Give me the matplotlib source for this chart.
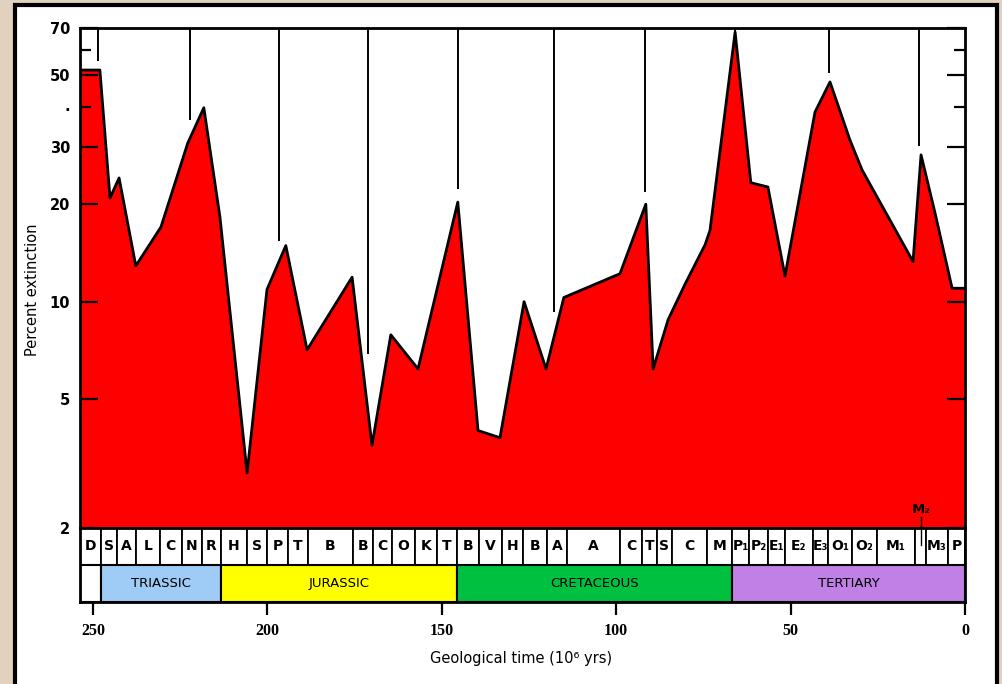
import numpy as np
import matplotlib
matplotlib.use("Agg")
import matplotlib.pyplot as plt
from matplotlib.patches import Rectangle
from matplotlib.ticker import FixedLocator, NullFormatter

# extinction curve (time in Myr before present, percent extinction)
times = [253.7, 248.0, 245.1, 242.5, 237.7, 230.5, 222.8, 218.2, 213.6, 205.8,
         200.1, 194.7, 188.6, 175.7, 170.0, 164.6, 156.8, 145.4, 139.6, 133.3,
         126.4, 120.1, 115.0, 98.9, 91.5, 89.4, 85.1, 80.3, 74.5, 73.1,
         65.9, 61.4, 56.5, 51.6, 43.0, 38.7, 33.0, 29.5, 14.9, 12.6,
         8.6, 3.7, 0.0]
pct = [51.9, 51.9, 20.9, 24.1, 12.9, 17.0, 30.9, 39.7, 18.3, 2.96,
       10.9, 14.9, 7.1, 11.9, 3.6, 7.9, 6.2, 20.3, 4.0, 3.8,
       10.0, 6.2, 10.3, 12.2, 20.0, 6.2, 8.8, 11.3, 15.0, 16.6,
       68.0, 23.3, 22.6, 12.0, 38.5, 47.7, 31.6, 25.5, 13.3, 28.4,
       18.8, 11.0, 11.0]

# 26 Myr periodicity markers hanging from the top
cycle_times = [248.6, 222.2, 196.7, 171.2, 145.4, 117.8, 91.7, 65.9, 39.0, 13.2]
cycle_ends = [55.4, 36.4, 15.4, 6.9, 22.3, 9.3, 21.8, 67.0, 51.0, 30.3]

# stages
stage_edges = [253.7, 247.7, 243.1, 237.7, 230.8, 224.5, 218.7, 213.3, 205.8, 200.1,
               194.1, 188.4, 175.5, 169.7, 164.3, 157.7, 151.4, 145.6, 139.3, 132.7,
               126.7, 119.8, 114.1, 98.9, 92.6, 88.3, 84.0, 74.0, 66.8, 61.9,
               56.5, 51.6, 43.6, 39.3, 32.4, 25.2, 14.3, 11.2, 4.9, 0.0]
stage_labels = ["D", "S", "A", "L", "C", "N", "R", "H", "S", "P",
                "T", "B", "B", "C", "O", "K", "T", "B", "V", "H",
                "B", "A", "A", "C", "T", "S", "C", "M", "P₁", "P₂",
                "E₁", "E₂", "E₃", "O₁", "O₂", "M₁", "", "M₃", "P"]

# periods
period_edges = [253.7, 247.7, 213.3, 145.6, 66.8, 0.0]
period_names = ["", "TRIASSIC", "JURASSIC", "CRETACEOUS", "TERTIARY"]
period_colors = ["white", "#9fcbf7", "#ffff00", "#00c040", "#c180e6"]

x_ticks = [250, 200, 150, 100, 50, 0]

W, H = 1003, 684
fig = plt.figure(figsize=(W / 100, H / 100), dpi=100)
fig.patch.set_facecolor("#e2d1bf")
fig.patches.append(Rectangle((15 / W, -0.02), (997 - 15) / W, 1.0 - 5 / H + 0.02,
                             transform=fig.transFigure, facecolor="white",
                             edgecolor="black", lw=3, zorder=-5))

# main plot
ax = fig.add_axes([80 / W, 1 - 528 / H, 885 / W, 500 / H])
ax.set_facecolor("white")
ax.fill_between(times, pct, 2, color="#ff0000", lw=0, zorder=1)
ax.plot(times, pct, color="black", lw=2, zorder=2)
ax.vlines(cycle_times, cycle_ends, 70, colors="black", lw=1.4, zorder=3)
ax.set_yscale("log")
ax.set_ylim(2, 70)
ax.set_xlim(253.7, 0)
ax.set_xticks([])
ax.yaxis.set_major_locator(FixedLocator([2, 5, 10, 20, 30, 50, 70]))
ax.yaxis.set_major_formatter(plt.FixedFormatter(["2", "5", "10", "20", "30", "50", "70"]))
ax.yaxis.set_minor_locator(FixedLocator([40, 60]))
ax.yaxis.set_minor_formatter(NullFormatter())
ax.tick_params(axis="y", which="major", direction="in", length=13, width=1.6,
               right=True, labelsize=10.5, pad=7)
ax.tick_params(axis="y", which="minor", direction="in", length=8, width=1.6, right=True)
for lab in ax.get_yticklabels():
    lab.set_fontweight("bold")
ax.text(-0.0147, 40, ".", transform=ax.get_yaxis_transform(), ha="center",
        va="center", fontsize=11, fontweight="bold")
for s in ax.spines.values():
    s.set_linewidth(2)

# M2 marker
ax.text(12.6, 2.28, "M₂", ha="center", va="center", fontsize=9.5, fontweight="bold")
ax.plot([12.6, 12.6], [2.16, 2.0], color="black", lw=1, clip_on=False)

# stage and period bands
bx = fig.add_axes([80 / W, 1 - 602 / H, 885 / W, 74 / H])
bx.set_xlim(253.7, 0)
bx.set_ylim(0, 2)
for i, lab in enumerate(stage_labels):
    x0, x1 = stage_edges[i], stage_edges[i + 1]
    bx.add_patch(Rectangle((x1, 1), x0 - x1, 1, facecolor="white",
                           edgecolor="black", lw=1.3))
    bx.text((x0 + x1) / 2, 1.5, lab, ha="center", va="center", fontsize=10,
            fontweight="bold")
bx.plot([12.7, 12.7], [1.55, 2.0], color="black", lw=1)
for i, name in enumerate(period_names):
    x0, x1 = period_edges[i], period_edges[i + 1]
    bx.add_patch(Rectangle((x1, 0), x0 - x1, 1, facecolor=period_colors[i],
                           edgecolor="black", lw=1.5))
    bx.text((x0 + x1) / 2, 0.5, name, ha="center", va="center", fontsize=9.5)
bx.set_yticks([])
bx.set_xticks(x_ticks)
bx.set_xticklabels([str(t) for t in x_ticks], family="Liberation Serif",
                   fontweight="bold", fontsize=11.5)
bx.tick_params(axis="x", direction="out", length=9, width=1.6, pad=6)
for s in bx.spines.values():
    s.set_linewidth(2)

fig.text(521 / W, 1 - 658 / H, "Geological time (10⁶ yrs)", ha="center",
         va="center", fontsize=10.5)
fig.text(33 / W, 1 - 290 / H, "Percent extinction", ha="center", va="center",
         rotation=90, fontsize=10.5)

fig.savefig("out.png", dpi=100, facecolor=fig.get_facecolor())
